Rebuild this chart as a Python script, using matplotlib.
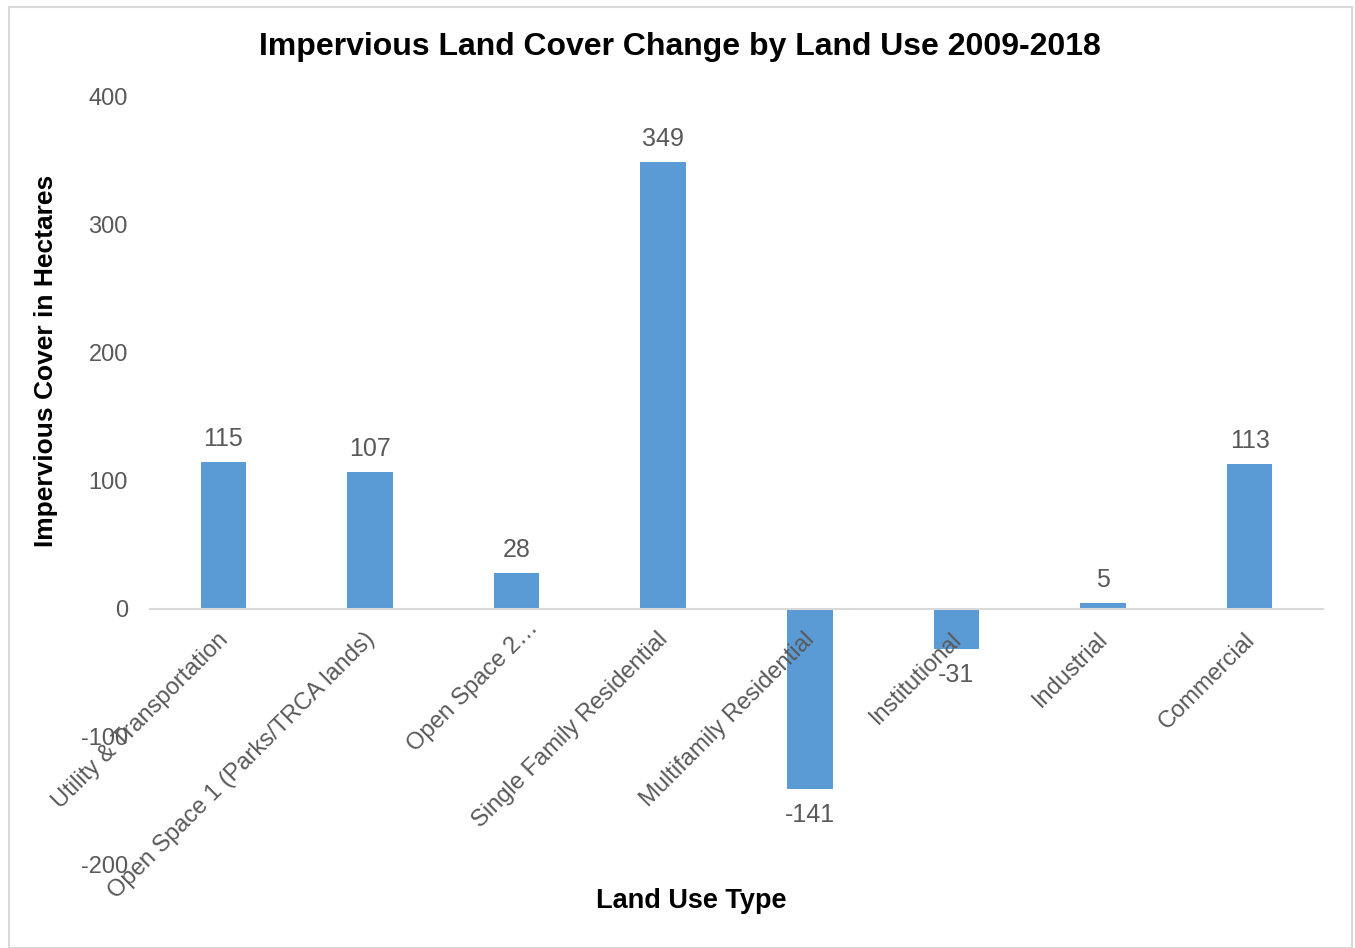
import matplotlib.pyplot as plt
from matplotlib.patches import Rectangle
from matplotlib.transforms import ScaledTranslation
import numpy as np

categories = ["Utility & Transportation", "Open Space 1 (Parks/TRCA lands)",
              "Open Space 2\u2026", "Single Family Residential",
              "Multifamily Residential", "Institutional", "Industrial", "Commercial"]
values = [115, 107, 28, 349, -141, -31, 5, 113]
y_ticks = [-200, -100, 0, 100, 200, 300, 400]

plt.rcParams['font.family'] = ['Liberation Sans', 'DejaVu Sans']
grey = '#595959'

fig = plt.figure(figsize=(13.55, 9.48), dpi=100)
ax = fig.add_axes([0.1107, 0.0876, 0.8657, 0.8101])
ax.set_axisbelow(False)

x = np.arange(len(categories))
bars = ax.bar(x, values, width=0.31, color='#5B9BD5', zorder=2)

ax.set_xlim(-0.5, len(categories) - 0.5)
ax.set_ylim(-200, 400)
ax.set_yticks(y_ticks)
ax.set_yticklabels([str(t) for t in y_ticks], fontsize=17, color=grey)
ax.tick_params(axis='y', length=0, pad=16)

for s in ['top', 'right', 'left']:
    ax.spines[s].set_visible(False)
ax.spines['bottom'].set_position(('data', 0))
ax.spines['bottom'].set_color('#D9D9D9')
ax.spines['bottom'].set_linewidth(1.5)
ax.spines['bottom'].set_zorder(3)

ax.set_xticks(x)
ax.set_xticklabels(categories, rotation=45, ha='right', rotation_mode='anchor',
                   fontsize=17, color=grey)
ax.tick_params(axis='x', length=0, pad=14)
for i, lbl in enumerate(ax.get_xticklabels()):
    dx, dy = (-6, 0) if i != 2 else (10, 12)
    shift = ScaledTranslation(dx / 100, dy / 100, fig.dpi_scale_trans)
    lbl.set_transform(lbl.get_transform() + shift)
    lbl.set_zorder(5)

for xi, v in zip(x, values):
    off = 23 if v >= 0 else -26
    ax.annotate(str(v), (xi, v), xytext=(0, off), textcoords='offset pixels',
                ha='center', va='center', fontsize=18, color=grey)

fig.text(0.502, 0.950, 'Impervious Land Cover Change by Land Use 2009-2018',
         ha='center', va='center', fontsize=23, fontweight='bold', color='black')
fig.text(0.034, 0.619, 'Impervious Cover in Hectares', rotation=90,
         ha='center', va='center', fontsize=19, fontweight='bold', color='black')
fig.text(0.51, 0.050, 'Land Use Type', ha='center', va='center',
         fontsize=19.5, fontweight='bold', color='black')

fig.patches.append(Rectangle((0.0066, 0.0), 0.991, 0.9926, transform=fig.transFigure,
                             fill=False, edgecolor='#D9D9D9', linewidth=1.5))

fig.savefig('out.png', dpi=100)
